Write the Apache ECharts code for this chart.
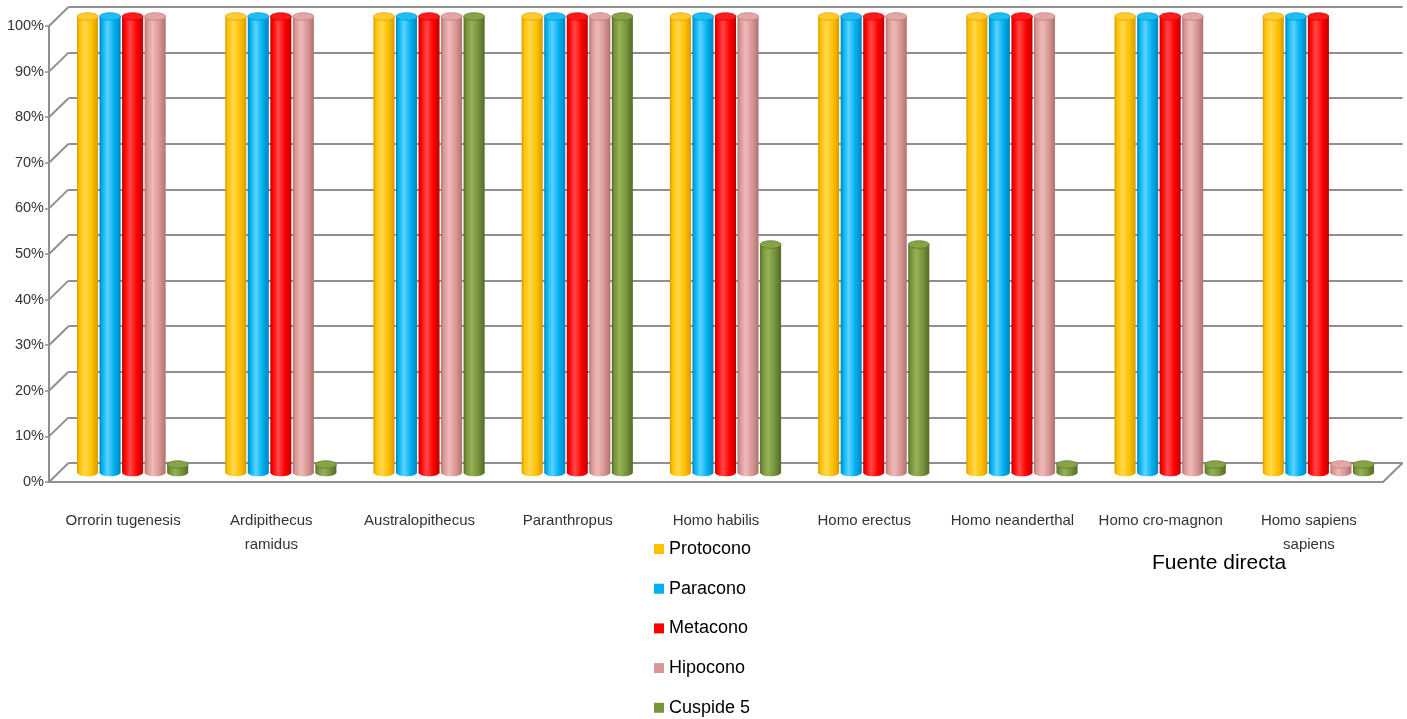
<!DOCTYPE html>
<html>
<head>
<meta charset="utf-8">
<title>Cúspides por especie</title>
<script src="https://cdn.jsdelivr.net/npm/echarts@6/dist/echarts.min.js"></script>
<style>
  html, body { margin: 0; padding: 0; background: #ffffff; }
  #chart { width: 1407px; height: 719px; }
</style>
</head>
<body>
<div id="chart"></div>
<script>
// Especies (categorías del eje X)
const categories = [
  'Orrorin tugenesis',
  'Ardipithecus\nramidus',
  'Australopithecus',
  'Paranthropus',
  'Homo habilis',
  'Homo erectus',
  'Homo neanderthal',
  'Homo cro-magnon',
  'Homo sapiens\nsapiens'
];

// Porcentaje de presencia de cada cúspide
const protocono = [100, 100, 100, 100, 100, 100, 100, 100, 100];
const paracono  = [100, 100, 100, 100, 100, 100, 100, 100, 100];
const metacono  = [100, 100, 100, 100, 100, 100, 100, 100, 100];
const hipocono  = [100, 100, 100, 100, 100, 100, 100, 100, 0];
const cuspide5  = [0, 0, 100, 100, 50, 50, 0, 0, 0];

const seriesNames = ['Protocono', 'Paracono', 'Metacono', 'Hipocono', 'Cuspide 5'];
const seriesValues = [protocono, paracono, metacono, hipocono, cuspide5];

// Marcas del eje Y
const yTicks = [0, 10, 20, 30, 40, 50, 60, 70, 80, 90, 100];

// Colores de los cilindros: [base, sombra, brillo, tapa]
const palette = [
  ['#FFC000', '#D89A00', '#FFD84F', '#FFCB2E'],
  ['#00B0F0', '#0085BC', '#5BD3FF', '#1DBDF6'],
  ['#FF0000', '#BE0000', '#FF4A4A', '#FF1A1A'],
  ['#D99694', '#AE7270', '#EDBBBA', '#E3A6A4'],
  ['#77933C', '#526A26', '#94B256', '#86A346']
];

// Desplazamiento de profundidad (perspectiva 3D)
const DX = 19.5, DY = 19;
const SLOT = 22.5 / 148;   // separación entre cilindros, fracción de la categoría
const WIDTH = 21 / 148;    // diámetro del cilindro
const RY = 3.8;            // semieje vertical de las elipses
const MIN_H = 8;           // grosor mínimo (disco) para valores nulos

const axisFont = '"Liberation Sans", Arial, sans-serif';
const sans = '"Liberation Sans", Arial, sans-serif';

function cylinder(params, api) {
  const si = params.seriesIndex;
  const cat = api.value(0);
  const val = api.value(1);
  const band = api.size([1, 0])[0];
  const base = api.coord([cat, 0]);
  const cx = base[0] + (si - 2) * band * SLOT;
  const yBase = base[1];
  let yTop = api.coord([cat, val])[1];
  if (yBase - yTop < MIN_H) yTop = yBase - MIN_H;
  const rx = band * WIDTH / 2;
  const c = palette[si];
  const grad = new echarts.graphic.LinearGradient(0, 0, 1, 0, [
    { offset: 0, color: c[1] },
    { offset: 0.12, color: c[0] },
    { offset: 0.38, color: c[2] },
    { offset: 0.7, color: c[0] },
    { offset: 1, color: c[1] }
  ]);
  return {
    type: 'group',
    children: [
      { type: 'ellipse', shape: { cx: cx, cy: yBase, rx: rx, ry: RY }, style: { fill: grad } },
      { type: 'rect', shape: { x: cx - rx, y: yTop, width: rx * 2, height: yBase - yTop }, style: { fill: grad } },
      { type: 'ellipse', shape: { cx: cx, cy: yTop, rx: rx, ry: RY }, style: { fill: c[3], stroke: c[1], lineWidth: 0.6 } }
    ]
  };
}

const cylinderSeries = seriesNames.map((name, si) => ({
  name: name,
  type: 'custom',
  xAxisIndex: 1,
  yAxisIndex: 1,
  itemStyle: { color: palette[si][0] },
  renderItem: cylinder,
  encode: { x: 0, y: 1 },
  data: seriesValues[si].map((v, i) => [i, v]),
  z: 5
}));

// Líneas oblicuas entre el eje frontal y la pared del fondo, más el borde derecho del suelo
const depthLines = {
  type: 'custom',
  xAxisIndex: 2,
  yAxisIndex: 2,
  silent: true,
  renderItem: function (params, api) {
    const v = api.value(0);
    const p = api.coord([0, v]);
    const lineStyle = { stroke: '#8f8f8f', lineWidth: 2 };
    const children = [
      { type: 'line', shape: { x1: p[0] - DX, y1: p[1] + DY, x2: p[0], y2: p[1] }, style: lineStyle }
    ];
    if (v === 0) {
      const q = api.coord([1, 0]);
      children.push({ type: 'line', shape: { x1: q[0] - DX, y1: q[1] + DY, x2: q[0], y2: q[1] }, style: lineStyle });
    }
    return { type: 'group', children: children };
  },
  data: yTicks.map(v => [v]),
  z: 1
};

const chart = echarts.init(document.getElementById('chart'), null, { renderer: 'canvas' });

chart.setOption({
  backgroundColor: '#ffffff',
  animation: false,
  grid: [
    // plano frontal: ejes y etiquetas
    { left: 49, right: 24, top: 26, bottom: 237 },
    // plano medio: cilindros
    { left: 58.5, right: 14.5, top: 16.5, bottom: 246.5 },
    // pared del fondo: líneas de cuadrícula
    { left: 68.5, right: 4.5, top: 7, bottom: 256 }
  ],
  xAxis: [
    {
      gridIndex: 0,
      type: 'category',
      data: categories,
      axisLine: { show: true, lineStyle: { color: '#8f8f8f', width: 2 } },
      axisTick: { show: false },
      axisLabel: {
        interval: 0,
        margin: 27,
        fontFamily: axisFont,
        fontSize: 15,
        lineHeight: 24,
        color: '#333333'
      },
      splitLine: { show: false }
    },
    {
      gridIndex: 1,
      type: 'category',
      data: categories,
      show: false
    },
    {
      gridIndex: 2,
      type: 'value',
      min: 0,
      max: 1,
      show: false
    }
  ],
  yAxis: [
    {
      gridIndex: 0,
      type: 'value',
      min: 0,
      max: 100,
      interval: 10,
      axisLine: { show: true, lineStyle: { color: '#8f8f8f', width: 2 } },
      axisTick: { show: true, inside: false, length: 4, lineStyle: { color: '#8f8f8f', width: 1.5 } },
      axisLabel: {
        margin: 5,
        formatter: '{value}%',
        fontFamily: axisFont,
        fontSize: 14.5,
        color: '#333333',
        padding: [5, 0, 0, 0]
      },
      splitLine: { show: false }
    },
    {
      gridIndex: 1,
      type: 'value',
      min: 0,
      max: 100,
      interval: 10,
      show: false
    },
    {
      gridIndex: 2,
      type: 'value',
      min: 0,
      max: 100,
      interval: 10,
      axisLine: { show: false },
      axisTick: { show: false },
      axisLabel: { show: false },
      splitLine: { show: true, lineStyle: { color: '#8f8f8f', width: 2 } }
    }
  ],
  legend: {
    orient: 'vertical',
    left: 654,
    top: 539,
    height: 200,
    padding: 0,
    itemWidth: 10,
    itemHeight: 10,
    itemGap: 19.7,
    icon: 'rect',
    data: seriesNames,
    textStyle: { fontFamily: sans, fontSize: 18, lineHeight: 20, color: '#000000' },
    selectedMode: false
  },
  graphic: [
    {
      type: 'text',
      left: 1152,
      top: 553,
      style: { text: 'Fuente directa', font: '21px ' + sans, fill: '#000000' }
    }
  ],
  series: cylinderSeries.concat([depthLines])
});
</script>
</body>
</html>
